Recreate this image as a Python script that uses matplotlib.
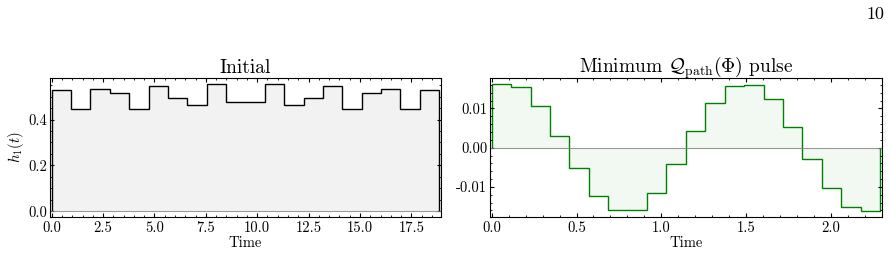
import numpy as np
import matplotlib
matplotlib.use('Agg')
import matplotlib.pyplot as plt

# Данные: ступенчатые импульсы (20 сегментов)
t_initial_end = 18.85
h_initial = [0.530, 0.448, 0.535, 0.515, 0.448, 0.545, 0.495, 0.465, 0.556, 0.475,
             0.475, 0.556, 0.465, 0.495, 0.545, 0.448, 0.515, 0.535, 0.448, 0.530]

t_min_end = 2.29
h_min = [0.0163, 0.0154, 0.0105, 0.0030, -0.0053, -0.0122, -0.0160, -0.0158, -0.0115, -0.0041,
         0.0042, 0.0115, 0.0158, 0.0160, 0.0123, 0.0054, -0.0028, -0.0103, -0.0152, -0.0162]

titles = ['Initial', r'Minimum $\mathcal{Q}_{\rm path}(\boldsymbol{\Phi})$ pulse']
colors = ['black', 'green']

plt.rcParams.update({
    'font.family': 'serif',
    'font.serif': ['cmr10'],
    'mathtext.fontset': 'cm',
    'axes.unicode_minus': False,
    'axes.formatter.use_mathtext': False,
    'xtick.direction': 'in',
    'ytick.direction': 'in',
    'xtick.top': True,
    'ytick.right': True,
    'xtick.minor.visible': True,
    'ytick.minor.visible': True,
    'xtick.major.size': 3,
    'ytick.major.size': 3,
    'xtick.minor.size': 1.5,
    'ytick.minor.size': 1.5,
    'xtick.major.pad': 3,
    'ytick.major.pad': 2,
    'xtick.labelsize': 10.5,
    'ytick.labelsize': 10.5,
    'axes.linewidth': 0.8,
})

fig = plt.figure(figsize=(8.91, 2.58), dpi=100)
ax1 = fig.add_axes([50 / 891, 1 - 217 / 258, 391 / 891, 139 / 258])
ax2 = fig.add_axes([490 / 891, 1 - 217 / 258, 392 / 891, 139 / 258])

for ax, vals, T, title, c in zip([ax1, ax2], [h_initial, h_min], [t_initial_end, t_min_end],
                                 titles, colors):
    edges = np.linspace(0, T, len(vals) + 1)
    ax.stairs(vals, edges, baseline=0, fill=True, color=c, alpha=0.05, linewidth=0)
    ax.stairs(vals, edges, baseline=0, color=c, linewidth=1.0)
    ax.axhline(0, color='gray', linewidth=0.8, alpha=0.8)
    lo, hi = min(0, min(vals)), max(0, max(vals))
    pad = 0.045 * (hi - lo)
    ax.set_ylim(lo - pad, hi + pad)
    ax.set_xlim(-0.0045 * T, 1.005 * T)
    ax.text(0.5, 1.035, title, fontsize=14, ha='center', va='baseline', transform=ax.transAxes)
    ax.set_xlabel('Time', fontsize=10.5, labelpad=1)

ax1.set_xticks(np.arange(0, 18, 2.5))
ax1.set_yticks([0.0, 0.2, 0.4])
ax1.set_ylabel(r'$h_1(t)$', fontsize=10.5, labelpad=2)
ax2.set_yticks([-0.01, 0.0, 0.01])
ax2.set_yticklabels(['-0.01', '0.00', '0.01'])

fig.text(884 / 891, 1 - 14 / 258, '10', fontsize=13, ha='right', va='center')

fig.savefig('out.png', dpi=100)
